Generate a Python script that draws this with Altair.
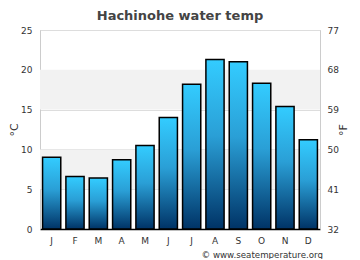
import altair as alt
import pandas as pd

months = ["J", "F", "M", "A", "M", "J", "J", "A", "S", "O", "N", "D"]
temps_c = [9.0, 6.6, 6.4, 8.7, 10.5, 14.0, 18.2, 21.3, 21.0, 18.3, 15.4, 11.2]
band_lo = [5, 15]
band_hi = [10, 20]
c_ticks = [0, 5, 10, 15, 20, 25]
f_ticks = [32, 41, 50, 59, 68, 77]

df = pd.DataFrame({"idx": list(range(12)), "m": months, "t": temps_c})
bands = pd.DataFrame({"lo": band_lo, "hi": band_hi})
fdf = pd.DataFrame({"f": [f_ticks[0], f_ticks[-1]]})

FONT = "DejaVu Sans"
ysc = alt.Scale(domain=[0, 25], nice=False, zero=True)
yaxis = alt.Axis(
    values=c_ticks, title="°C", titleFont=FONT, titleFontSize=11,
    titleFontWeight="normal", titleColor="#333333", titlePadding=1,
    labelFont=FONT, labelFontSize=9, labelColor="#333333", ticks=False,
    labelPadding=8, gridColor="#dddddd", domainColor="#cccccc",
)

band_layer = alt.Chart(bands).mark_rect(color="#f2f2f2").encode(
    y=alt.Y("lo:Q", scale=ysc, axis=yaxis),
    y2="hi:Q",
)

grad = alt.Gradient(
    gradient="linear",
    stops=[alt.GradientStop(color="#003366", offset=0),
           alt.GradientStop(color="#2a9fd6", offset=0.55),
           alt.GradientStop(color="#33ccff", offset=1)],
    x1=0, x2=0, y1=1, y2=0,
)

xenc = alt.X(
    "idx:O",
    scale=alt.Scale(paddingInner=0.22, paddingOuter=0.11),
    axis=alt.Axis(
        title=None, labelExpr="['J','F','M','A','M','J','J','A','S','O','N','D'][datum.value]",
        labelAngle=0, ticks=False, labelPadding=7, domainColor="#000000",
        domainWidth=1.5, labelFontSize=9, labelColor="#333333", labelFont=FONT,
    ),
)

bars = alt.Chart(df).mark_bar(color=grad, stroke="#000000", strokeWidth=1.5).encode(
    x=xenc,
    y=alt.Y("t:Q", scale=ysc, axis=yaxis),
)

left = alt.layer(band_layer, bars)

right = alt.Chart(fdf).mark_point(opacity=0).encode(
    y=alt.Y("f:Q", scale=alt.Scale(domain=[32, 77], nice=False, zero=False),
            axis=alt.Axis(orient="right", values=f_ticks, title="°F", titleAngle=270,
                          titleFont=FONT, titleFontSize=11, titleFontWeight="normal",
                          titleColor="#333333", titlePadding=10, labelFont=FONT,
                          labelFontSize=9, labelColor="#333333", ticks=False,
                          labelPadding=7, grid=False, domainColor="#cccccc")),
)

credit = alt.Chart(pd.DataFrame({"s": ["© www.seatemperature.org"]})).mark_text(
    align="right", baseline="middle", fontSize=8.7, font=FONT, color="#333333"
).encode(text="s:N", x=alt.value(283), y=alt.value(225))

chart = alt.layer(left, right, credit).resolve_scale(y="independent").properties(
    width=280, height=199,
    title=alt.TitleParams("Hachinohe water temp", font=FONT, fontSize=13,
                          fontWeight="bold", color="#444444", offset=3, anchor="middle"),
    autosize=alt.AutoSizeParams(type="none"),
    padding={"left": 32, "top": 22, "right": 32, "bottom": 30},
).configure_view(stroke="#cccccc", strokeWidth=1)

chart.save("out.html", embed_options={"renderer": "svg", "actions": False})
